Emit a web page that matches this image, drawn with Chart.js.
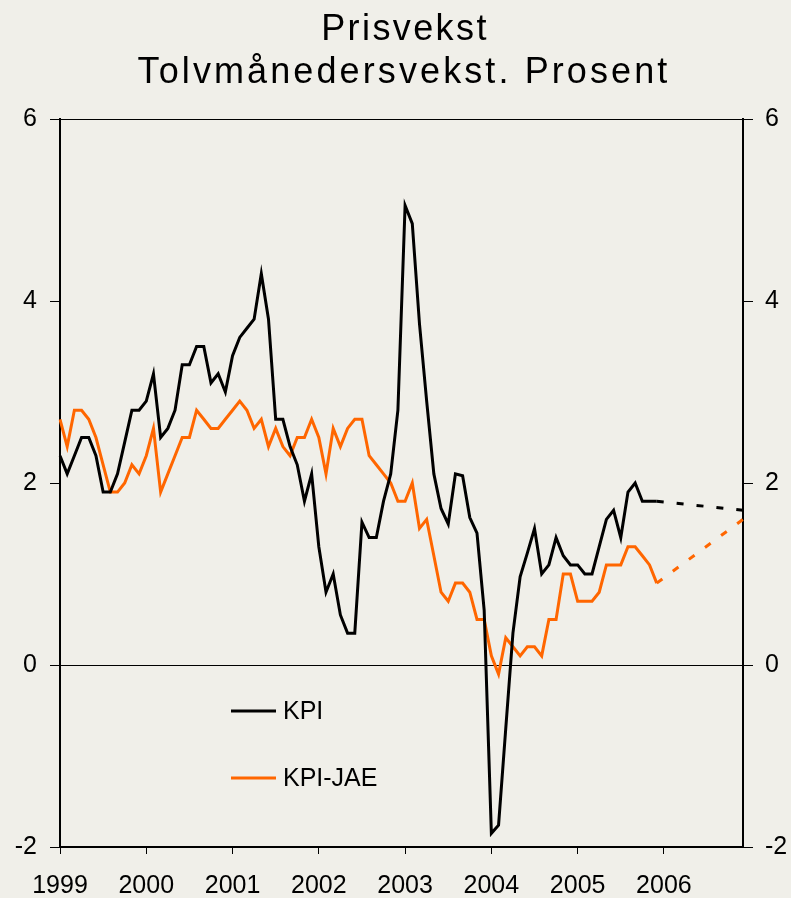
<!DOCTYPE html>
<html lang="no">
<head>
<meta charset="utf-8">
<title>Prisvekst</title>
<script src="https://cdn.jsdelivr.net/npm/chart.js@4.4.1/dist/chart.umd.min.js"></script>
<style>
  html, body { margin: 0; padding: 0; background: #f0efe9; }
  #wrap { width: 791px; height: 898px; }
</style>
</head>
<body>
<div id="wrap"><canvas id="prisvekst" width="791" height="898"></canvas></div>
<script>
// Tolvmånedersvekst, prosent. Månedlige tall jan 1999 - des 2005, anslag ut 2006
const aar = ['1999', '2000', '2001', '2002', '2003', '2004', '2005', '2006'];
const maaneder = [];
aar.forEach(a => { for (let m = 1; m <= 12; m++) maaneder.push(a + '-' + String(m).padStart(2, '0')); });

const tittel = ['Prisvekst', 'Tolvmånedersvekst. Prosent'];
const yTicks = [-2, 0, 2, 4, 6];

const kpi = [
  2.3, 2.1, 2.3, 2.5, 2.5, 2.3, 1.9, 1.9, 2.1, 2.45, 2.8, 2.8,
  2.9, 3.2, 2.5, 2.6, 2.8, 3.3, 3.3, 3.5, 3.5, 3.1, 3.2, 3.0,
  3.4, 3.6, 3.7, 3.8, 4.3, 3.8, 2.7, 2.7, 2.4, 2.2, 1.8, 2.1,
  1.3, 0.8, 1.0, 0.55, 0.35, 0.35, 1.57, 1.4, 1.4, 1.8, 2.1, 2.8,
  5.05, 4.85, 3.75, 2.9, 2.1, 1.72, 1.55, 2.1, 2.08, 1.62, 1.45, 0.6,
  -1.85, -1.76, -0.7, 0.35, 0.97, 1.23, 1.5, 1.0, 1.1, 1.4, 1.2, 1.1,
  1.1, 1.0, 1.0, 1.3, 1.6, 1.7, 1.4, 1.9, 2.0, 1.8, 1.8, 1.8
];
const kpiJae = [
  2.7, 2.4, 2.8, 2.8, 2.7, 2.5, 2.2, 1.9, 1.9, 2.0, 2.2, 2.1,
  2.3, 2.6, 1.9, 2.1, 2.3, 2.5, 2.5, 2.8, 2.7, 2.6, 2.6, 2.7,
  2.8, 2.9, 2.8, 2.6, 2.7, 2.4, 2.6, 2.4, 2.3, 2.5, 2.5, 2.7,
  2.5, 2.1, 2.6, 2.4, 2.6, 2.7, 2.7, 2.3, 2.2, 2.1, 2.0, 1.8,
  1.8, 2.0, 1.5, 1.6, 1.2, 0.8, 0.7, 0.9, 0.9, 0.8, 0.5, 0.5,
  0.1, -0.1, 0.3, 0.2, 0.1, 0.2, 0.2, 0.1, 0.5, 0.5, 1.0, 1.0,
  0.7, 0.7, 0.7, 0.8, 1.1, 1.1, 1.1, 1.3, 1.3, 1.2, 1.1, 0.9
];
// anslag: fra siste observasjon (des 2005) til des 2006
const kpiAnslag = [1.8, 1.7];
const kpiJaeAnslag = [0.9, 1.6];

function anslagSerie(par) {
  const s = new Array(maaneder.length).fill(null);
  s[kpi.length - 1] = par[0];
  s[maaneder.length - 1] = par[1];
  return s;
}

const svart = '#000000';
const oransje = '#ff6600';
const bakgrunn = '#f0efe9';
const skrift = '"Liberation Sans", Arial, sans-serif';

const bakgrunnPlugin = {
  id: 'bakgrunn',
  beforeDraw(chart) {
    const c = chart.ctx;
    c.save();
    c.fillStyle = bakgrunn;
    c.fillRect(0, 0, chart.width, chart.height);
    c.restore();
  }
};

const tittelPlugin = {
  id: 'tittel',
  afterDraw(chart) {
    const c = chart.ctx;
    c.save();
    c.fillStyle = svart;
    c.font = '36px ' + skrift;
    c.textAlign = 'center';
    c.textBaseline = 'alphabetic';
    c.letterSpacing = '2.4px';
    c.fillText(tittel[0], 405, 40);
    c.letterSpacing = '3.1px';
    c.fillText(tittel[1], 404, 83);
    c.restore();
  }
};

// forklaring inne i plottet
const forklaringPlugin = {
  id: 'forklaring',
  afterDraw(chart) {
    const c = chart.ctx;
    const rader = [
      { tekst: 'KPI', farge: svart, y: 711 },
      { tekst: 'KPI-JAE', farge: oransje, y: 778 }
    ];
    c.save();
    c.font = '25px ' + skrift;
    c.textBaseline = 'middle';
    c.textAlign = 'left';
    rader.forEach(r => {
      c.strokeStyle = r.farge;
      c.lineWidth = 3;
      c.beginPath();
      c.moveTo(231, r.y);
      c.lineTo(276, r.y);
      c.stroke();
      c.fillStyle = svart;
      c.fillText(r.tekst, 283, r.y + 1);
    });
    c.restore();
  }
};

const ctx = document.getElementById('prisvekst').getContext('2d');
const graf = new Chart(ctx, {
  type: 'line',
  data: {
    labels: maaneder,
    datasets: [
      {
        label: 'KPI',
        data: kpi,
        borderColor: svart,
        borderWidth: 3,
        pointRadius: 0,
        tension: 0,
        yAxisID: 'y'
      },
      {
        label: 'KPI-JAE',
        data: kpiJae,
        borderColor: oransje,
        borderWidth: 3,
        pointRadius: 0,
        tension: 0,
        yAxisID: 'y'
      },
      {
        label: 'KPI anslag',
        data: anslagSerie(kpiAnslag),
        borderColor: svart,
        borderWidth: 3,
        borderDash: [7, 13],
        pointRadius: 0,
        spanGaps: true,
        yAxisID: 'y'
      },
      {
        label: 'KPI-JAE anslag',
        data: anslagSerie(kpiJaeAnslag),
        borderColor: oransje,
        borderWidth: 3,
        borderDash: [7, 13],
        pointRadius: 0,
        spanGaps: true,
        yAxisID: 'y'
      }
    ]
  },
  options: {
    responsive: false,
    animation: false,
    layout: { padding: { top: 119, left: 0, right: 0, bottom: 0 } },
    plugins: {
      legend: { display: false },
      title: { display: false },
      tooltip: { enabled: false }
    },
    scales: {
      x: {
        type: 'category',
        offset: false,
        afterFit: s => { s.height = 51; },
        border: { display: true, color: svart, width: 2 },
        grid: {
          drawOnChartArea: false,
          drawTicks: true,
          tickLength: 7,
          tickWidth: 1,
          tickColor: c => (c.index % 12 === 0 ? svart : 'transparent')
        },
        ticks: {
          autoSkip: false,
          maxRotation: 0,
          padding: 17,
          color: svart,
          font: { family: skrift, size: 25 },
          callback: (v, i) => (i % 12 === 0 ? maaneder[i].slice(0, 4) : '')
        }
      },
      y: {
        position: 'left',
        min: -2,
        max: 6,
        afterFit: s => { s.width = 60; },
        afterBuildTicks: s => { s.ticks = yTicks.map(v => ({ value: v })); },
        border: { display: true, color: svart, width: 2 },
        grid: {
          drawOnChartArea: true,
          color: c => (c.tick && (c.tick.value === 0 || c.tick.value === 6) ? svart : 'transparent'),
          lineWidth: 1,
          drawTicks: true,
          tickLength: 10,
          tickColor: svart
        },
        ticks: {
          padding: 13,
          color: svart,
          font: { family: skrift, size: 25 }
        }
      },
      y2: {
        position: 'right',
        min: -2,
        max: 6,
        afterFit: s => { s.width = 48; },
        afterBuildTicks: s => { s.ticks = yTicks.map(v => ({ value: v })); },
        border: { display: true, color: svart, width: 2 },
        grid: {
          drawOnChartArea: false,
          drawTicks: true,
          tickLength: 10,
          tickColor: svart
        },
        ticks: {
          padding: 12,
          color: svart,
          font: { family: skrift, size: 25 }
        }
      }
    }
  },
  plugins: [bakgrunnPlugin, tittelPlugin, forklaringPlugin]
});
</script>
</body>
</html>
